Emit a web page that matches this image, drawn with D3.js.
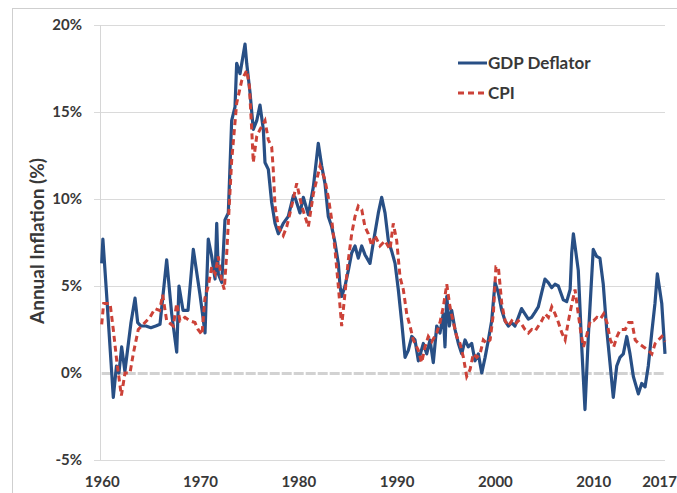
<!DOCTYPE html>
<html>
<head>
<meta charset="utf-8">
<script src="https://cdn.jsdelivr.net/npm/d3@7"></script>
<style>
body { margin: 0; background: #fff; }
text { font-family: Lato, 'Open Sans', sans-serif; font-weight: bold; fill: #383838; }
</style>
</head>
<body>
<div id="chart"></div>
<script>
// [year, annual inflation %]
var gdpDeflator = [
  [1960.0, 6.3], [1960.12, 7.7], [1960.5, 4.5], [1961.18, -1.4], [1961.5, 0.4], [1961.75, 0.0],
  [1962.03, 1.5], [1962.36, 0.1], [1962.98, 2.9], [1963.39, 4.3], [1963.66, 2.9], [1964.0, 2.7],
  [1964.5, 2.7], [1965.0, 2.6], [1965.5, 2.7], [1965.93, 2.8], [1966.61, 6.5], [1967.12, 3.4],
  [1967.63, 1.2], [1967.86, 5.0], [1968.27, 3.6], [1968.78, 3.6], [1969.32, 7.1], [1970.0, 4.5],
  [1970.51, 2.3], [1970.84, 7.7], [1971.19, 6.7], [1971.53, 5.4], [1971.7, 8.6], [1971.86, 5.7],
  [1972.21, 5.2], [1972.54, 8.8], [1972.88, 9.2], [1973.22, 14.5], [1973.56, 15.3], [1973.73, 17.8],
  [1974.07, 17.2], [1974.58, 18.9], [1974.75, 17.8], [1975.09, 16.1], [1975.42, 14.0], [1975.77, 14.5],
  [1976.1, 15.4], [1976.44, 14.0], [1976.61, 12.1], [1976.95, 11.7], [1977.29, 9.8], [1977.63, 8.6],
  [1977.97, 8.0], [1978.47, 8.6], [1978.98, 9.0], [1979.5, 10.2], [1979.66, 10.1], [1980.17, 9.2],
  [1980.51, 10.1], [1981.02, 9.1], [1981.53, 10.7], [1982.03, 13.2], [1982.38, 11.9], [1982.71, 10.9],
  [1983.05, 9.0], [1983.4, 8.4], [1983.73, 7.5], [1984.07, 6.3], [1984.24, 5.0], [1984.41, 4.4],
  [1984.75, 5.0], [1985.09, 5.9], [1985.43, 6.9], [1985.77, 7.3], [1986.1, 6.6], [1986.45, 7.3],
  [1986.78, 6.8], [1987.29, 6.3], [1987.63, 7.5], [1988.14, 9.2], [1988.48, 10.1], [1988.82, 9.2],
  [1989.16, 7.6], [1989.5, 7.0], [1989.84, 6.3], [1990.17, 4.8], [1990.52, 2.9], [1990.86, 0.9],
  [1991.19, 1.3], [1991.54, 2.1], [1991.87, 1.9], [1992.21, 0.7], [1992.72, 1.7], [1993.06, 1.1],
  [1993.4, 1.9], [1993.73, 0.6], [1994.08, 2.7], [1994.41, 2.3], [1994.75, 3.4], [1994.92, 1.5],
  [1995.1, 4.4], [1995.36, 2.7], [1995.6, 3.6], [1995.94, 2.5], [1996.28, 1.7], [1996.62, 1.1],
  [1996.96, 1.9], [1997.29, 1.5], [1997.64, 1.7], [1997.97, 0.7], [1998.31, 1.1], [1998.66, 0.0],
  [1999.0, 0.9], [1999.33, 1.9], [1999.67, 3.0], [2000.01, 5.2], [2000.35, 4.6], [2000.69, 3.6],
  [2001.03, 3.0], [2001.36, 2.7], [2001.7, 2.9], [2002.04, 2.7], [2002.38, 3.2], [2002.71, 3.7],
  [2003.05, 3.4], [2003.4, 3.1], [2003.73, 3.2], [2004.08, 3.5], [2004.41, 3.8], [2004.75, 4.6],
  [2005.09, 5.4], [2005.43, 5.2], [2005.77, 4.9], [2006.11, 5.1], [2006.45, 5.0], [2006.96, 4.2],
  [2007.3, 4.1], [2007.65, 4.8], [2007.81, 6.9], [2007.98, 8.0], [2008.48, 5.9], [2008.83, 1.5],
  [2009.16, -2.1], [2009.5, 2.1], [2010.0, 7.1], [2010.35, 6.7], [2010.68, 6.6], [2011.02, 5.1],
  [2011.37, 2.5], [2011.7, 0.6], [2012.04, -1.4], [2012.39, 0.4], [2012.72, 0.9], [2013.06, 1.1],
  [2013.41, 2.1], [2013.74, 1.1], [2014.08, -0.2], [2014.59, -1.2], [2014.93, -0.6], [2015.27, -0.8],
  [2015.6, 0.4], [2015.95, 2.3], [2016.28, 4.0], [2016.52, 5.7], [2016.97, 4.0], [2017.3, 1.1]
]

var cpi = [
  [1960.0, 2.8], [1960.2, 4.0], [1960.85, 4.0], [1961.18, 2.5], [1961.53, 0.7], [1962.0, -1.3],
  [1962.37, 0.0], [1962.88, 0.0], [1963.21, 1.1], [1963.72, 2.5], [1964.4, 2.9], [1964.91, 3.2],
  [1965.42, 3.7], [1965.9, 3.6], [1966.2, 4.5], [1966.61, 3.0], [1967.28, 2.7], [1967.63, 4.0],
  [1967.96, 3.0], [1968.47, 3.2], [1968.98, 3.0], [1969.49, 2.9], [1969.8, 2.5], [1970.2, 2.2],
  [1970.5, 4.3], [1970.84, 5.0], [1971.19, 6.1], [1971.53, 5.7], [1971.86, 6.7], [1972.21, 5.3],
  [1972.47, 4.8], [1972.72, 6.9], [1972.98, 9.7], [1973.22, 12.2], [1973.73, 15.5], [1974.24, 16.8],
  [1974.75, 17.4], [1975.02, 16.5], [1975.26, 14.0], [1975.42, 12.1], [1975.77, 13.6], [1976.1, 14.0],
  [1976.61, 14.5], [1976.95, 13.4], [1977.29, 13.0], [1977.45, 11.7], [1977.63, 9.6], [1977.97, 8.4],
  [1978.47, 7.9], [1978.82, 8.4], [1979.33, 9.6], [1979.84, 10.9], [1980.35, 9.6], [1981.02, 8.4],
  [1981.53, 10.3], [1982.21, 11.9], [1982.71, 11.1], [1983.05, 10.1], [1983.4, 8.8], [1983.73, 7.1],
  [1984.07, 5.0], [1984.41, 2.7], [1984.75, 4.6], [1985.09, 6.5], [1985.43, 8.0], [1985.77, 9.0],
  [1986.1, 9.6], [1986.45, 9.4], [1986.78, 8.4], [1987.12, 8.0], [1987.47, 7.3], [1987.8, 7.9],
  [1988.31, 7.3], [1988.82, 7.6], [1989.33, 7.1], [1989.66, 8.6], [1990.01, 7.6], [1990.35, 5.5],
  [1990.68, 4.8], [1991.03, 3.4], [1991.36, 2.7], [1991.7, 1.9], [1992.21, 1.3], [1992.55, 0.6],
  [1992.89, 1.5], [1993.22, 2.1], [1993.57, 1.8], [1994.08, 2.3], [1994.41, 2.9], [1994.75, 3.8],
  [1995.1, 5.1], [1995.43, 3.8], [1995.77, 2.9], [1996.11, 2.1], [1996.45, 1.7], [1996.79, 0.9],
  [1997.13, -0.2], [1997.47, 0.2], [1997.8, 1.1], [1998.15, 0.9], [1998.49, 1.1], [1998.82, 1.9],
  [1999.17, 1.7], [1999.51, 1.9], [1999.84, 3.4], [2000.1, 6.1], [2000.35, 6.1], [2000.69, 4.0],
  [2001.03, 3.0], [2001.36, 2.7], [2001.71, 3.0], [2002.05, 2.8], [2002.38, 3.0], [2002.72, 2.8],
  [2003.06, 2.5], [2003.4, 2.3], [2003.74, 2.5], [2004.08, 2.4], [2004.42, 2.7], [2004.76, 3.0],
  [2005.1, 3.4], [2005.44, 3.2], [2005.78, 3.8], [2006.12, 3.4], [2006.46, 2.9], [2006.81, 2.3],
  [2007.14, 1.9], [2007.48, 3.0], [2007.83, 4.0], [2008.15, 4.8], [2008.45, 3.5], [2008.75, 2.3],
  [2009.01, 1.5], [2009.35, 2.2], [2009.7, 3.0], [2010.03, 3.0], [2010.38, 3.2], [2010.72, 3.1],
  [2011.06, 3.4], [2011.4, 2.9], [2011.74, 1.9], [2012.08, 1.5], [2012.42, 2.1], [2012.75, 2.5],
  [2013.26, 2.5], [2013.6, 2.9], [2013.94, 2.9], [2014.27, 1.9], [2014.61, 1.7], [2015.12, 1.5],
  [2015.62, 1.3], [2015.96, 1.1], [2016.3, 1.7], [2016.64, 1.9], [2016.98, 2.1], [2017.3, 1.8]
]

var yTicks = [-5, 0, 5, 10, 15, 20]
var xTicks = [1960, 1970, 1980, 1990, 2000, 2010, 2017]
var seriesNames = ['GDP Deflator', 'CPI']

var blue = '#284f85', red = '#cc4238'

var svg = d3.select('#chart').append('svg')
  .attr('width', 677).attr('height', 493)

// outer chart border, its right and bottom fall off the picture
svg.append('rect')
  .attr('x', 12.5).attr('y', 8.5).attr('width', 700).attr('height', 520)
  .attr('fill', '#fff').attr('stroke', '#cfcfcf')

var x = d3.scaleLinear().domain([1960, 2017.3]).range([101.7, 665])
var y = d3.scaleLinear().domain([-5, 20]).range([460, 25])

var gridLeft = 94, gridRight = 665

var yAxis = svg.append('g')
  .attr('transform', 'translate(' + gridLeft + ',0)')
  .call(d3.axisLeft(y).tickValues(yTicks).tickSize(-(gridRight - gridLeft))
    .tickPadding(12).tickFormat(d => d + '%'))

yAxis.select('.domain').remove()
yAxis.selectAll('line').attr('stroke', '#dadada')
yAxis.selectAll('text').style('font-size', '15px')
yAxis.selectAll('.tick').filter(d => d == 0).select('line')
  .attr('x1', x.range()[0] - gridLeft)
  .attr('stroke', '#d2d2d2').attr('stroke-width', 3).attr('stroke-dasharray', '10,2')

svg.append('line')
  .attr('x1', 100.5).attr('x2', 100.5).attr('y1', y(20)).attr('y2', y(-5))
  .attr('stroke', '#d6d6d6')

var xAxis = svg.append('g')
  .attr('transform', 'translate(0,' + y(-5) + ')')
  .call(d3.axisBottom(x).tickValues(xTicks).tickSize(0).tickPadding(16).tickFormat(d3.format('d')))

xAxis.select('.domain').remove()
xAxis.selectAll('text').style('font-size', '15px')
xAxis.selectAll('.tick').filter(d => d == 2017).select('text').attr('dx', -3)

svg.append('text')
  .attr('transform', 'translate(44,241) rotate(-90)')
  .attr('text-anchor', 'middle')
  .style('font-size', '19px')
  .text('Annual Inflation (%)')

var line = d3.line().x(d => x(d[0])).y(d => y(d[1]))

svg.append('path')
  .attr('d', line(gdpDeflator))
  .attr('fill', 'none').attr('stroke', blue).attr('stroke-width', 3.2)
  .attr('stroke-linejoin', 'round')

svg.append('path')
  .attr('d', line(cpi))
  .attr('fill', 'none').attr('stroke', red).attr('stroke-width', 3)
  .attr('stroke-dasharray', '6,4')

// legend
var legend = svg.append('g').attr('transform', 'translate(458,63)')
seriesNames.forEach(function(name, i){
  var g = legend.append('g').attr('transform', 'translate(0,' + i * 30 + ')')
  g.append('line').attr('x1', 0).attr('x2', 29)
    .attr('stroke', i ? red : blue).attr('stroke-width', 3)
    .attr('stroke-dasharray', i ? '6,4' : null)
  g.append('text').attr('x', 30).attr('dy', '0.35em')
    .style('font-size', '17px').text(name)
})
</script>
</body>
</html>
